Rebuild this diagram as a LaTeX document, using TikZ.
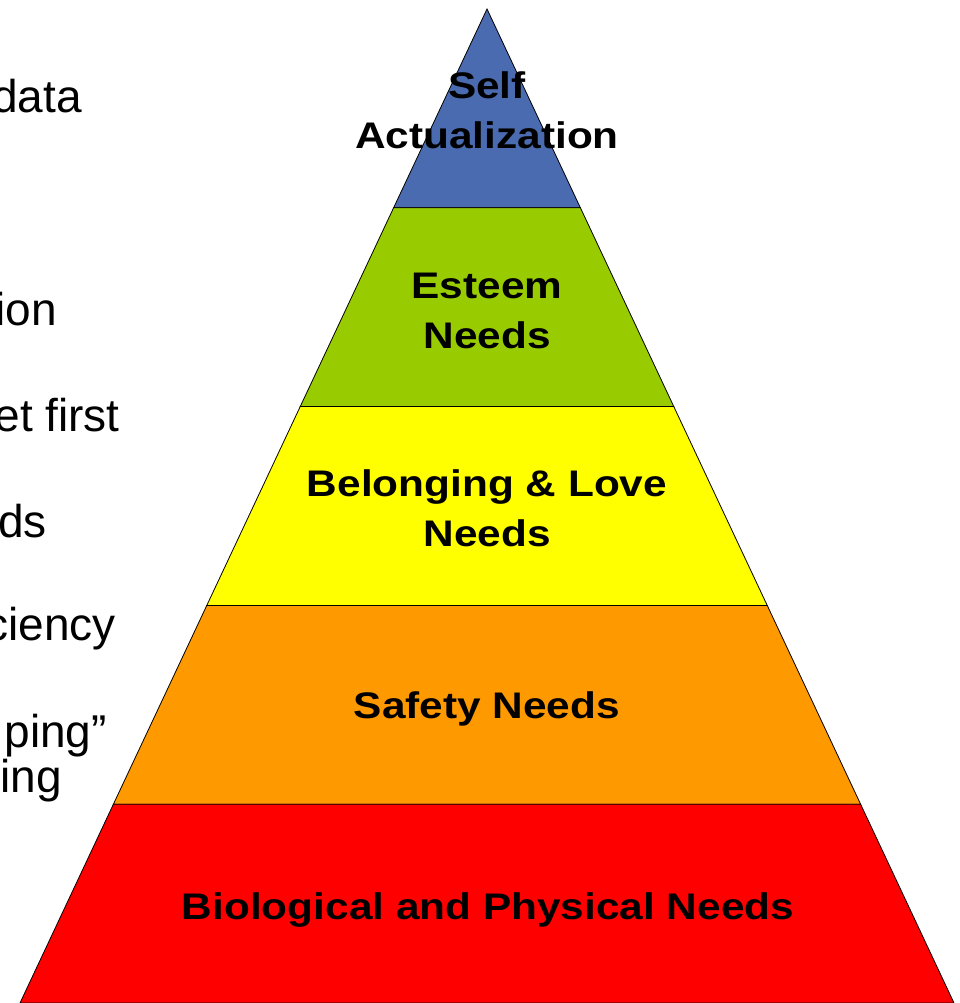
\documentclass[tikz,border=0pt]{standalone}
\usepackage{fontspec}
\usepackage{xcolor}
\usepackage{tikz}
\usetikzlibrary{calc}
\setmainfont{Liberation Sans}
\newfontfamily\levelfont{Liberation Sans}[FakeStretch=1.145]

\definecolor{tierblue}{RGB}{74,107,175}
\definecolor{tiergreen}{RGB}{153,204,0}
\definecolor{tieryellow}{RGB}{255,255,0}
\definecolor{tierorange}{RGB}{255,153,0}
\definecolor{tierred}{RGB}{255,0,0}

\begin{document}
\begin{tikzpicture}[x=1pt,y=1pt,
    tier/.style={draw=black, line width=0.8pt},
    level/.style={font=\levelfont\bfseries\fontsize{37}{50}\selectfont, align=center, inner sep=0pt},
    side/.style={anchor=base east, font=\fontsize{46}{50}\selectfont, inner sep=0pt}]
        \useasboundingbox (0,0) rectangle (959,-1003);

        % the pyramid
        \coordinate (apex) at (487,-9);
        \coordinate (bl) at (20,-1003);
        \coordinate (br) at (954,-1003);
        \foreach \lo/\hi/\col in {0/0.2/tierblue, 0.2/0.4/tiergreen, 0.4/0.6/tieryellow, 0.6/0.8/tierorange, 0.8/1/tierred}
            \filldraw[tier, fill=\col] ($(apex)!\lo!(bl)$) -- ($(apex)!\hi!(bl)$) -- ($(apex)!\hi!(br)$) -- ($(apex)!\lo!(br)$) -- cycle;

        \node[level] (selfact) at (487,-110) {Self\\Actualization};
        \node[level] (esteem) at (487,-311) {Esteem\\Needs};
        \node[level] (belong) at (487,-508) {Belonging \& Love\\Needs};
        \node[level, anchor=base] (safety) at (487,-718) {Safety Needs};
        \node[level, anchor=base] (bio) at (488,-919) {Biological and Physical Needs};

        % cut-off text on the left
        \node[side] (t1) at (82,-113) {data};
        \node[side] (t2) at (57,-325) {ion};
        \node[side] (t3) at (120,-431) {et first};
        \node[side] (t4) at (47,-537) {ds};
        \node[side] (t5) at (116,-640) {ciency};
        \node[side] (t6) at (107,-747) {ping”};
        \node[side] (t7) at (62,-792) {ing};
    \end{tikzpicture}
\end{document}
